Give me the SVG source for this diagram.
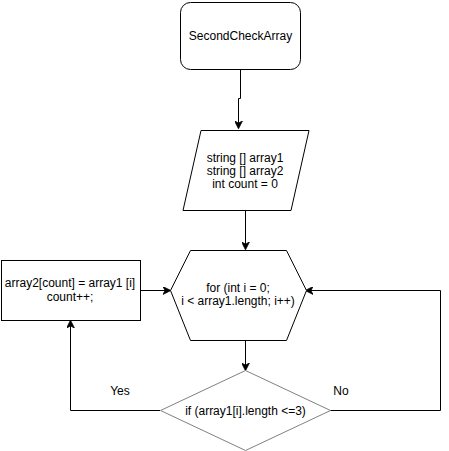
<svg xmlns="http://www.w3.org/2000/svg" width="449" height="451" viewBox="0 0 449 451">
  <style>
    .shape { fill: #ffffff; stroke: #000000; stroke-width: 1; }
    .cond { fill: #ffffff; stroke: #808080; stroke-width: 1; }
    .edge { fill: none; stroke: #000000; stroke-width: 1; }
    text { font-family: "Liberation Sans", Arial, sans-serif; font-size: 12px; fill: #000000; text-anchor: middle; }
  </style>
  <defs>
    <marker id="arrow" viewBox="0 0 10 10" refX="9" refY="5" markerWidth="8" markerHeight="8" markerUnits="userSpaceOnUse" orient="auto">
      <path d="M0,0 L10,5 L0,10 L3,5 z" fill="#000000" stroke="#000000" stroke-width="1"/>
    </marker>
  </defs>

  <g id="connectors">
    <path class="edge" d="M240.5,70 V98.5 H238.5 V128" marker-end="url(#arrow)"/>
    <path class="edge" d="M245.5,210 V249" marker-end="url(#arrow)"/>
    <path class="edge" d="M245.5,340 V370" marker-end="url(#arrow)"/>
    <path class="edge" d="M140,290.5 H170" marker-end="url(#arrow)"/>
    <path class="edge" d="M160,410.5 H70.5 V321" marker-end="url(#arrow)"/>
    <path class="edge" d="M330,410.5 H440.5 V290.5 H306" marker-end="url(#arrow)"/>
    <text x="120" y="395">Yes</text>
    <text x="341" y="395">No</text>
  </g>

  <g id="start">
    <rect class="shape" x="180.5" y="2.5" width="120" height="67" rx="10" ry="10"/>
    <text x="240.5" y="40">SecondCheckArray</text>
  </g>

  <g id="input">
    <polygon class="shape" points="201,130.5 309,130.5 291,210.5 183,210.5"/>
    <text x="245" y="162">string [] array1</text>
    <text x="245" y="175">string [] array2</text>
    <text x="245" y="188">int count = 0</text>
  </g>

  <g id="loop">
    <polygon class="shape" points="190.5,250.5 286.5,250.5 306.5,290.5 286.5,340.5 190.5,340.5 170.5,290.5"/>
    <text x="238" y="292">for (int i = 0;</text>
    <text x="238" y="305">i &lt; array1.length; i++)</text>
  </g>

  <g id="assign">
    <rect class="shape" x="1.5" y="260.5" width="139" height="60"/>
    <text x="70" y="287">array2[count] = array1  [i]</text>
    <text x="70" y="301">count++;</text>
  </g>

  <g id="check">
    <polygon class="cond" points="245.5,370.5 330.5,410.5 245.5,450.5 160.5,410.5"/>
    <text x="245.5" y="415">if (array1[i].length &lt;=3)</text>
  </g>
</svg>
